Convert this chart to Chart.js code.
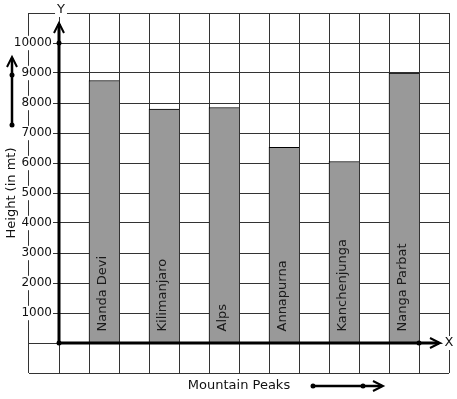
<!DOCTYPE html>
<html><head><meta charset="utf-8">
<script src="https://cdn.jsdelivr.net/npm/chart.js@4"></script>
<style>html,body{margin:0;padding:0;background:#fff}canvas{display:block}</style>
</head><body>
<canvas id="c" width="457" height="399"></canvas>
<script>
const categories = ['Nanda Devi', 'Kilimanjaro', 'Alps', 'Annapurna', 'Kanchenjunga', 'Nanga Parbat'];
const heights = [8750, 7800, 7850, 6520, 6050, 9000];
const yTickValues = [1000, 2000, 3000, 4000, 5000, 6000, 7000, 8000, 9000, 10000];
const yTickLabels = ['1000', '2000', '3000', '4000', '5000', '6000', '7000', '8000', '9000', '10000'];
const xAxisTitle = 'Mountain Peaks';
const yAxisTitle = 'Height (in mt)';
const xAxisLetter = 'X';
const yAxisLetter = 'Y';

const FONT = '"DejaVu Sans", sans-serif';
const INK = '#111';
const GRID = '#333';

// grid runs over 14 columns; bars sit in every other column starting at column 2
const barX = i => 2.5 + 2 * i;
// y axis crosses at column line 1; labels sit a few pixels to its left
const Y_AXIS_AT = 1;
const LABEL_GAP_UNITS = 7 / 30;

function dot(ctx, px, py, r) {
  ctx.beginPath(); ctx.arc(px, py, r, 0, Math.PI * 2); ctx.fill();
}
function arrowLine(ctx, x1, y1, x2, y2, w) {
  ctx.lineWidth = w; ctx.beginPath(); ctx.moveTo(x1, y1); ctx.lineTo(x2, y2); ctx.stroke();
}
function chevron(ctx, tx, ty, dir) {
  ctx.lineWidth = 2; ctx.beginPath();
  if (dir === 'up') { ctx.moveTo(tx - 5, ty + 10); ctx.lineTo(tx, ty); ctx.lineTo(tx + 5, ty + 10); }
  else { ctx.moveTo(tx - 10, ty - 5); ctx.lineTo(tx, ty); ctx.lineTo(tx - 10, ty + 5); }
  ctx.stroke();
}
function boxedText(ctx, text, px, py) {
  const w = ctx.measureText(text).width;
  ctx.fillStyle = '#fff';
  ctx.fillRect(px - w / 2 - 2, py - 7, w + 4, 14);
  ctx.fillStyle = INK;
  ctx.fillText(text, px, py);
}

const deco = {
  id: 'deco',
  afterDatasetsDraw(chart) {
    const { ctx, chartArea, scales: { x, y } } = chart;
    ctx.save();
    // labels inside bars
    const meta = chart.getDatasetMeta(0);
    ctx.font = '13px ' + FONT;
    ctx.fillStyle = '#1a1a1a';
    ctx.textAlign = 'left';
    ctx.textBaseline = 'middle';
    meta.data.forEach((bar, i) => {
      ctx.save();
      ctx.translate(bar.x - 1, bar.base - 11);
      ctx.rotate(-Math.PI / 2);
      ctx.fillText(categories[i], 0, 0);
      ctx.restore();
    });

    // main axes with arrows
    const ox = x.getPixelForValue(Y_AXIS_AT);
    const oy = y.getPixelForValue(0);
    const yTop = y.getPixelForValue(10000) - 20;
    const xEnd = x.getPixelForValue(13) + 21;
    ctx.strokeStyle = '#000';
    ctx.fillStyle = '#000';
    ctx.lineCap = 'butt';
    arrowLine(ctx, ox, oy, ox, yTop + 1, 3);
    chevron(ctx, ox, yTop, 'up');
    arrowLine(ctx, ox, oy, xEnd - 1, oy, 3);
    chevron(ctx, xEnd, oy, 'right');
    dot(ctx, ox, oy, 2.5);
    dot(ctx, ox, y.getPixelForValue(10000), 2.5);
    dot(ctx, x.getPixelForValue(13), oy, 2.5);

    // axis letters
    ctx.font = '13px ' + FONT;
    ctx.textAlign = 'center';
    ctx.textBaseline = 'middle';
    boxedText(ctx, yAxisLetter, ox + 2, chartArea.top - 3);
    boxedText(ctx, xAxisLetter, chartArea.right, oy);

    // decorative direction arrows
    ctx.strokeStyle = '#000';
    ctx.fillStyle = '#000';
    const lx = 12;
    arrowLine(ctx, lx, 125, lx, 58, 2.5);
    chevron(ctx, lx, 57, 'up');
    dot(ctx, lx, 125, 2.5);
    dot(ctx, lx, 75, 2.5);
    const by = 386;
    arrowLine(ctx, 313, by, 382, by, 2.5);
    chevron(ctx, 383, by, 'right');
    dot(ctx, 313, by, 2.5);
    dot(ctx, 363, by, 2.5);
    ctx.restore();
  }
};

new Chart(document.getElementById('c'), {
  type: 'bar',
  data: {
    datasets: [{
      data: heights.map((h, i) => ({ x: barX(i), y: h })),
      backgroundColor: '#999999',
      borderColor: '#000',
      borderWidth: { top: 1, left: 1, right: 0, bottom: 0 },
      borderSkipped: false,
      categoryPercentage: 1,
      barPercentage: 1
    }]
  },
  options: {
    responsive: false,
    animation: false,
    events: [],
    layout: { padding: { left: 0.2, right: 8, top: 13, bottom: 1.2 } },
    plugins: { legend: { display: false }, tooltip: { enabled: false } },
    scales: {
      x: {
        type: 'linear', min: 0, max: 14, offset: false,
        ticks: { display: false, stepSize: 1 },
        grid: { color: GRID, lineWidth: 1, drawTicks: false, offset: false },
        border: { display: false },
        title: { display: true, text: xAxisTitle, color: INK, font: { family: FONT, size: 13 }, padding: { top: 5.2, bottom: 4 } }
      },
      y: {
        type: 'linear', min: -1000, max: 11000,
        ticks: { display: false, stepSize: 1000 },
        grid: { color: GRID, lineWidth: 1, drawTicks: false },
        border: { display: false },
        title: { display: true, text: yAxisTitle, color: INK, font: { family: FONT, size: 13 }, padding: { top: 4, bottom: 9.2 } }
      },
      y2: {
        type: 'linear', axis: 'y', position: { x: Y_AXIS_AT - LABEL_GAP_UNITS }, min: -1000, max: 11000,
        afterBuildTicks: s => { s.ticks = yTickValues.map(v => ({ value: v })); },
        ticks: {
          color: INK, font: { family: FONT, size: 12 }, padding: 0,
          callback: v => yTickLabels[yTickValues.indexOf(v)],
          showLabelBackdrop: true, backdropColor: '#fff',
          backdropPadding: { top: 0, bottom: 0, left: 1, right: 1 }
        },
        grid: { display: false },
        border: { display: false }
      }
    }
  },
  plugins: [deco]
});
</script>
</body></html>
